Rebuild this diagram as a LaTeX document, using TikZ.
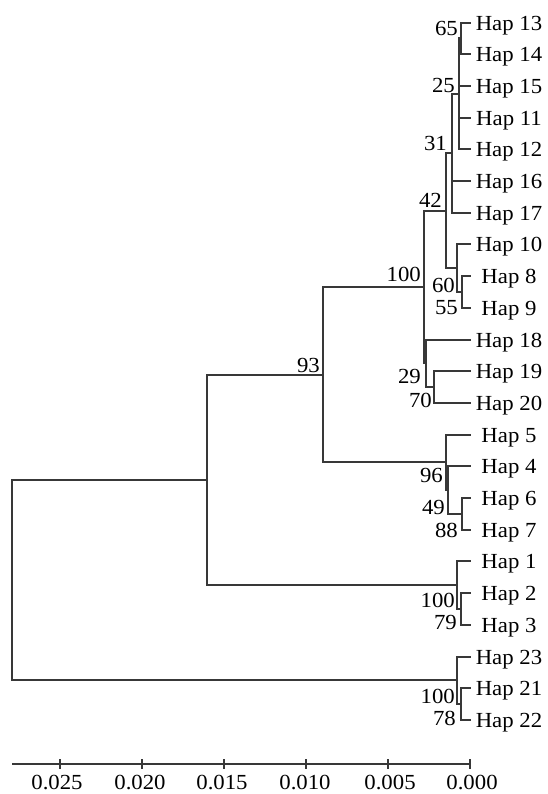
\documentclass[tikz,border=0pt]{standalone}
\usepackage{fontspec}
\setmainfont{Liberation Serif}[FakeStretch=1.06]
\begin{document}
\begin{tikzpicture}[x=1pt,y=-1pt,
  br/.style={draw=black!78, line width=2pt},
  lab/.style={font=\fontsize{21.5}{25}\selectfont, inner sep=0pt, text height=14.4pt, text depth=0pt},
  leaf/.style={lab, anchor=center},
  boot/.style={lab, anchor=east},
  tickmark/.style={draw=black!78, line width=2pt}]
\useasboundingbox (0,0) rectangle (547,794);
% leaf tips
\coordinate (t13) at (471,23);
\coordinate (t14) at (471,54);
\coordinate (t15) at (471,86);
\coordinate (t11) at (471,118);
\coordinate (t12) at (471,149);
\coordinate (t16) at (471,181);
\coordinate (t17) at (471,213);
\coordinate (t10) at (471,244);
\coordinate (t8) at (471,276);
\coordinate (t9) at (471,308);
\coordinate (t18) at (471,340);
\coordinate (t19) at (471,371);
\coordinate (t20) at (471,403);
\coordinate (t5) at (471,435);
\coordinate (t4) at (471,466);
\coordinate (t6) at (471,498);
\coordinate (t7) at (471,530);
\coordinate (t1) at (471,561);
\coordinate (t2) at (471,593);
\coordinate (t3) at (471,625);
\coordinate (t23) at (471,657);
\coordinate (t21) at (471,688);
\coordinate (t22) at (471,720);
% leaf labels
\node[leaf] (l13) at (509,23) {Hap 13};
\node[leaf] (l14) at (509,54) {Hap 14};
\node[leaf] (l15) at (509,86) {Hap 15};
\node[leaf] (l11) at (509,118) {Hap 11};
\node[leaf] (l12) at (509,149) {Hap 12};
\node[leaf] (l16) at (509,181) {Hap 16};
\node[leaf] (l17) at (509,213) {Hap 17};
\node[leaf] (l10) at (509,244) {Hap 10};
\node[leaf] (l8) at (509,276) {Hap 8};
\node[leaf] (l9) at (509,308) {Hap 9};
\node[leaf] (l18) at (509,340) {Hap 18};
\node[leaf] (l19) at (509,371) {Hap 19};
\node[leaf] (l20) at (509,403) {Hap 20};
\node[leaf] (l5) at (509,435) {Hap 5};
\node[leaf] (l4) at (509,466) {Hap 4};
\node[leaf] (l6) at (509,498) {Hap 6};
\node[leaf] (l7) at (509,530) {Hap 7};
\node[leaf] (l1) at (509,561) {Hap 1};
\node[leaf] (l2) at (509,593) {Hap 2};
\node[leaf] (l3) at (509,625) {Hap 3};
\node[leaf] (l23) at (509,657) {Hap 23};
\node[leaf] (l21) at (509,688) {Hap 21};
\node[leaf] (l22) at (509,720) {Hap 22};
% internal nodes
\coordinate (n65) at (461,38);
\coordinate (n25) at (459,94);
\coordinate (n31) at (452,153);
\coordinate (n55) at (462,292);
\coordinate (n60) at (457,268);
\coordinate (n42) at (446,211);
\coordinate (n70) at (434,387);
\coordinate (n29) at (426,363);
\coordinate (n100a) at (424,287);
\coordinate (n88) at (462,514);
\coordinate (n49) at (448,490);
\coordinate (n96) at (446,462);
\coordinate (n93) at (323,375);
\coordinate (n79) at (461,609);
\coordinate (n100b) at (457,585);
\coordinate (nmid) at (207,480);
\coordinate (n78) at (461,704);
\coordinate (n100c) at (457,680);
\coordinate (root) at (12,580);
% branches
\draw[br] (n65) |- (t13);
\draw[br] (n65) |- (t14);
\draw[br] (n25) |- (n65);
\draw[br] (n25) |- (t15);
\draw[br] (n25) |- (t11);
\draw[br] (n25) |- (t12);
\draw[br] (n31) |- (n25);
\draw[br] (n31) |- (t16);
\draw[br] (n31) |- (t17);
\draw[br] (n55) |- (t8);
\draw[br] (n55) |- (t9);
\draw[br] (n60) |- (t10);
\draw[br] (n60) |- (n55);
\draw[br] (n42) |- (n31);
\draw[br] (n42) |- (n60);
\draw[br] (n70) |- (t19);
\draw[br] (n70) |- (t20);
\draw[br] (n29) |- (t18);
\draw[br] (n29) |- (n70);
\draw[br] (n100a) |- (n42);
\draw[br] (n100a) |- (n29);
\draw[br] (n88) |- (t6);
\draw[br] (n88) |- (t7);
\draw[br] (n49) |- (t4);
\draw[br] (n49) |- (n88);
\draw[br] (n96) |- (t5);
\draw[br] (n96) |- (n49);
\draw[br] (n93) |- (n100a);
\draw[br] (n93) |- (n96);
\draw[br] (n79) |- (t2);
\draw[br] (n79) |- (t3);
\draw[br] (n100b) |- (t1);
\draw[br] (n100b) |- (n79);
\draw[br] (nmid) |- (n93);
\draw[br] (nmid) |- (n100b);
\draw[br] (n78) |- (t21);
\draw[br] (n78) |- (t22);
\draw[br] (n100c) |- (t23);
\draw[br] (n100c) |- (n78);
\draw[br] (root) |- (nmid);
\draw[br] (root) |- (n100c);
% bootstrap values
\node[boot] (b65) at (458,28) {65};
\node[boot] (b25) at (455,85) {25};
\node[boot] (b31) at (447,143) {31};
\node[boot] (b42) at (442,200) {42};
\node[boot] (b100a) at (421,274) {100};
\node[boot] (b60) at (455,285) {60};
\node[boot] (b55) at (458,307) {55};
\node[boot] (b29) at (421,376) {29};
\node[boot] (b70) at (432,400) {70};
\node[boot] (b93) at (320,365) {93};
\node[boot] (b96) at (443,475) {96};
\node[boot] (b49) at (445,507) {49};
\node[boot] (b88) at (458,530) {88};
\node[boot] (b100b) at (455,600) {100};
\node[boot] (b79) at (457,622) {79};
\node[boot] (b100c) at (455,696) {100};
\node[boot] (b78) at (456,718) {78};
% scale axis
\coordinate (axL) at (12,764);
\coordinate (a0) at (470,764);
\coordinate (a5) at (388,764);
\coordinate (a10) at (306,764);
\coordinate (a15) at (224,764);
\coordinate (a20) at (142,764);
\coordinate (a25) at (60,764);
\draw[br] (axL) -- (a0);
\foreach \t in {a0,a5,a10,a15,a20,a25}{
  \draw[tickmark] ([yshift=5pt]\t) -- ([yshift=-5pt]\t);
}
\node[leaf] (s0) at (472,782.5) {0.000};
\node[leaf] (s5) at (390,782.5) {0.005};
\node[leaf] (s10) at (305,782.5) {0.010};
\node[leaf] (s15) at (222,782.5) {0.015};
\node[leaf] (s20) at (140,782.5) {0.020};
\node[leaf] (s25) at (57,782.5) {0.025};
\end{tikzpicture}
\end{document}
